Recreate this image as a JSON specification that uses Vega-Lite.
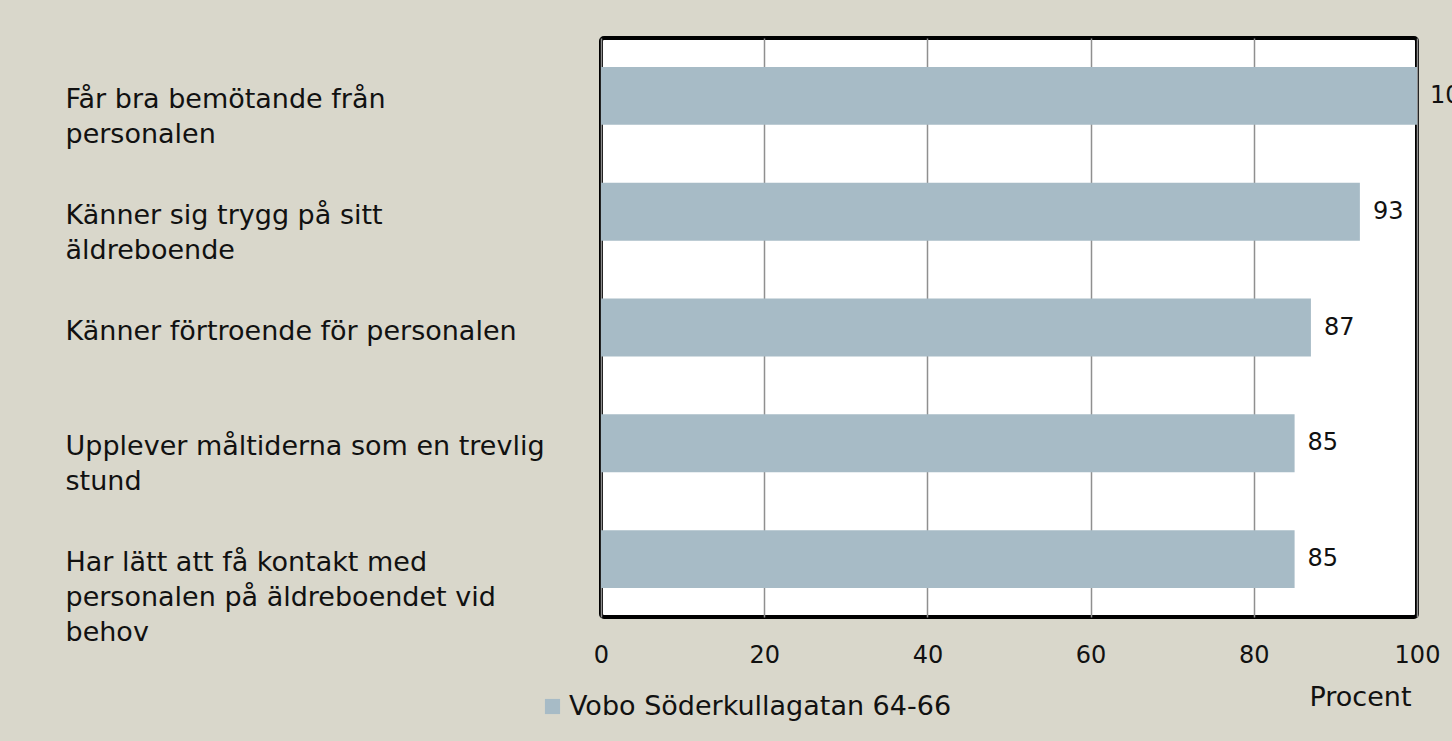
{
  "$schema": "https://vega.github.io/schema/vega-lite/v6.json",
  "autosize": {"type": "none"},
  "width": 816,
  "height": 579,
  "padding": {"left": 601, "top": 38, "right": 35, "bottom": 124},
  "background": "#d9d7cb",
  "config": {
    "font": "DejaVu Sans",
    "view": {"fill": "white", "stroke": "black", "strokeWidth": 4, "cornerRadius": 3}
  },
  "data": {
    "values": [
      {"kategori": "Får bra bemötande från|personalen", "procent": 100, "serie": "Vobo Söderkullagatan 64-66"},
      {"kategori": "Känner sig trygg på sitt|äldreboende", "procent": 93, "serie": "Vobo Söderkullagatan 64-66"},
      {"kategori": "Känner förtroende för personalen", "procent": 87, "serie": "Vobo Söderkullagatan 64-66"},
      {"kategori": "Upplever måltiderna som en trevlig|stund", "procent": 85, "serie": "Vobo Söderkullagatan 64-66"},
      {"kategori": "Har lätt att få kontakt med|personalen på äldreboendet vid|behov", "procent": 85, "serie": "Vobo Söderkullagatan 64-66"}
    ]
  },
  "encoding": {
    "y": {
      "field": "kategori",
      "type": "nominal",
      "sort": null,
      "scale": {"paddingInner": 0.5, "paddingOuter": 0.25},
      "axis": {
        "title": null,
        "domain": false,
        "ticks": false,
        "labelExpr": "split(datum.label, '|')",
        "labelAlign": "left",
        "labelBaseline": "alphabetic",
        "labelOffset": 12,
        "labelPadding": 536,
        "labelLimit": 600,
        "labelFontSize": 27,
        "labelLineHeight": 35,
        "labelColor": "#111111"
      }
    },
    "x": {
      "field": "procent",
      "type": "quantitative",
      "scale": {"domain": [0, 100], "nice": false},
      "axis": {
        "title": "Procent",
        "titleX": 759,
        "titleY": 80,
        "titleAlign": "center",
        "titleBaseline": "middle",
        "titleFontSize": 27,
        "titleFontWeight": "normal",
        "titleColor": "#111111",
        "values": [0, 20, 40, 60, 80, 100],
        "domain": false,
        "ticks": false,
        "labelPadding": 26,
        "labelFontSize": 24,
        "labelColor": "#111111",
        "labelFlush": false,
        "grid": true,
        "gridColor": "#8f8f8f",
        "gridWidth": 1.5
      }
    }
  },
  "layer": [
    {
      "mark": {"type": "bar"},
      "encoding": {
        "color": {
          "field": "serie",
          "type": "nominal",
          "scale": {"range": ["#a7bbc6"]},
          "legend": {
            "title": null,
            "orient": "none",
            "legendX": -62,
            "legendY": 655,
            "symbolType": "square",
            "symbolSize": 230,
            "symbolStrokeWidth": 0,
            "labelFontSize": 27,
            "labelColor": "#111111",
            "labelLimit": 600,
            "labelOffset": 3
          }
        }
      }
    },
    {
      "mark": {"type": "text", "align": "left", "baseline": "middle", "dx": 13, "fontSize": 24, "color": "#111111"},
      "encoding": {
        "text": {"field": "procent", "type": "quantitative"}
      }
    }
  ]
}
